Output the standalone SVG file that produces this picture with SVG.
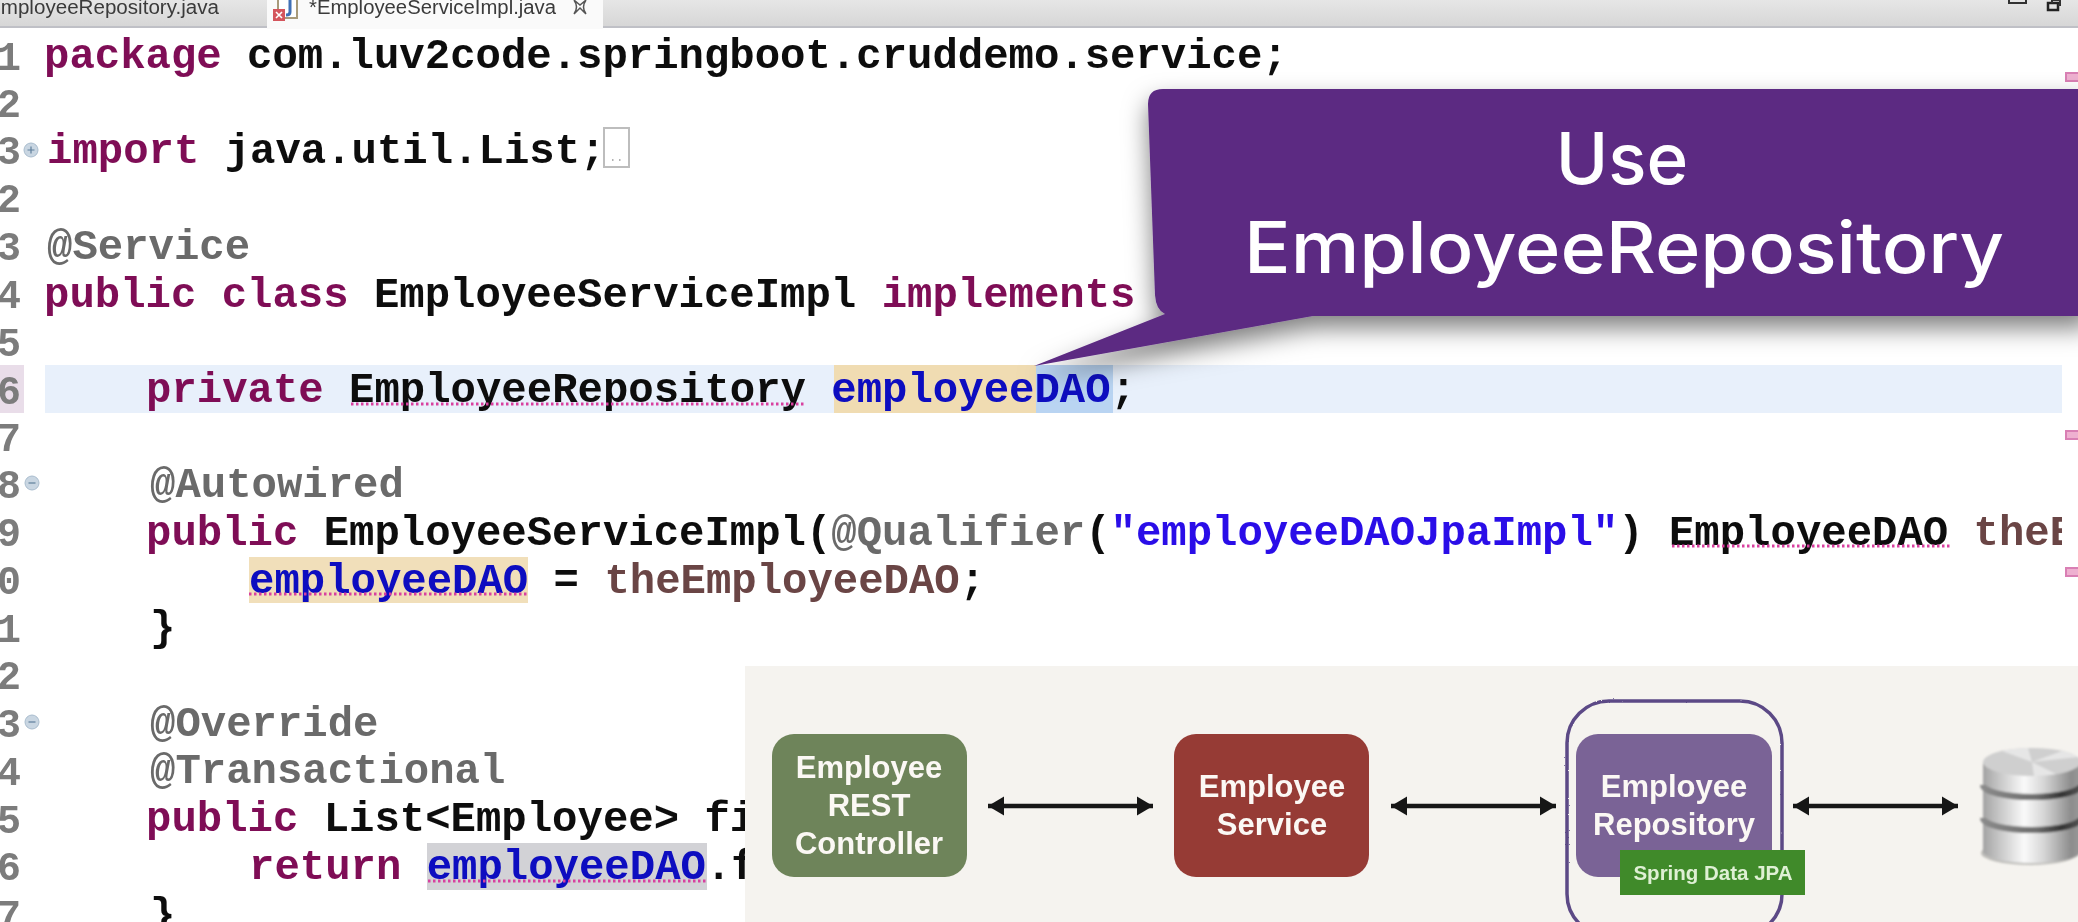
<svg xmlns="http://www.w3.org/2000/svg" width="2078" height="922" viewBox="0 0 2078 922">
<style>
.code{font-family:"Liberation Mono",monospace;font-weight:700;font-size:42.3px;fill:#0c0c0c}
.num{font-family:"Liberation Mono",monospace;font-weight:700;font-size:40px;fill:#7b7b7b}
.kw{fill:#7f1056}
.an{fill:#6a6a6a}
.fld{fill:#0a0ac0}
.str{fill:#2a10e8}
.par{fill:#6a4444}
.ul{stroke:#d8409f;stroke-width:3;stroke-dasharray:2.5 2.5;fill:none}
.tab{font-family:"Liberation Sans",Arial,sans-serif;font-size:20px;fill:#3a3a3a}
.node{font-family:"Liberation Sans",Arial,sans-serif;font-weight:700;font-size:31px;fill:#fbf8f4;text-anchor:middle}
.call{font-family:Inter,"Liberation Sans",sans-serif;font-size:71px;font-weight:500;fill:#fff;text-anchor:middle}
.mark{fill:#eeb0d0;stroke:#d97fb4;stroke-width:2}
.fold{fill:#c9d6e2;stroke:#a9bccd;stroke-width:1}
.conn{stroke:#161616;stroke-width:4.5;fill:none;marker-start:url(#head);marker-end:url(#head)}
.groove{fill:none;stroke:url(#groove);stroke-width:6}
</style>
<defs>
<linearGradient id="strip" x1="0" y1="0" x2="0" y2="1"><stop offset="0" stop-color="#e6e6e6"/><stop offset="1" stop-color="#d6d6d6"/></linearGradient>
<linearGradient id="disk" x1="0" y1="0" x2="1" y2="0"><stop offset="0" stop-color="#a2a2a2"/><stop offset=".12" stop-color="#bdbdbd"/><stop offset=".42" stop-color="#fafafa"/><stop offset=".62" stop-color="#d6d6d6"/><stop offset=".9" stop-color="#8c8c8c"/><stop offset="1" stop-color="#9a9a9a"/></linearGradient>
<linearGradient id="groove" x1="0" y1="0" x2="1" y2="0"><stop offset="0" stop-color="#8a8a8a"/><stop offset=".55" stop-color="#6e6e6e"/><stop offset=".8" stop-color="#333"/><stop offset="1" stop-color="#555"/></linearGradient>
<filter id="soft" x="0" y="0" width="100%" height="100%"><feGaussianBlur stdDeviation="0.7"/></filter>
<filter id="dbblur" x="-10%" y="-10%" width="120%" height="120%"><feGaussianBlur stdDeviation="1.2"/></filter>
<filter id="rough" x="-5%" y="-5%" width="110%" height="110%"><feTurbulence type="fractalNoise" baseFrequency="0.25" numOctaves="2" seed="4"/><feDisplacementMap in="SourceGraphic" scale="1.8"/></filter>
<filter id="shadow" x="-10%" y="-20%" width="120%" height="150%"><feDropShadow dx="0" dy="12" stdDeviation="12" flood-color="#000" flood-opacity=".5"/></filter>
<clipPath id="codeclip"><rect x="0" y="0" width="2062" height="922"/></clipPath>
<marker id="head" markerUnits="userSpaceOnUse" markerWidth="18" markerHeight="22" refX="16" refY="11" orient="auto-start-reverse"><path d="M0,1.5 L16,11 L0,20.5 Z" fill="#161616"/></marker>
</defs>
<rect x="0" y="0" width="2078" height="922" fill="#fff"/>
<g filter="url(#soft)">
<g id="tabs">
<rect x="0" y="0" width="2078" height="27" fill="url(#strip)"/>
<rect x="0" y="26" width="2078" height="2" fill="#bfc0c6"/>
<rect x="267" y="0" width="336" height="29" fill="#fafafa"/>
<text class="tab" x="-13" y="14" textLength="232" lengthAdjust="spacingAndGlyphs">EmployeeRepository.java</text>
<path d="M278,0 V18 H297 V0" fill="#fff" stroke="#a89a7a" stroke-width="2"/>
<path d="M290,0 V12 Q290,15 286,15" fill="none" stroke="#3f6fb5" stroke-width="3"/>
<rect x="273" y="9" width="12" height="12" fill="#d4555c"/>
<path d="M276,12 L282,18 M282,12 L276,18" stroke="#fff" stroke-width="1.6"/>
<text class="tab" x="309" y="14" textLength="247" lengthAdjust="spacingAndGlyphs">*EmployeeServiceImpl.java</text>
<path d="M574,0 L580,5 L586,0 M574,14 L580,8 L586,14 M574,0 Q579,7 574,14 M586,0 Q581,7 586,14" fill="none" stroke="#555" stroke-width="1.5"/>
<rect x="2009" y="-4" width="17" height="7" fill="none" stroke="#333" stroke-width="2"/>
<rect x="2048" y="3" width="10" height="7" fill="none" stroke="#222" stroke-width="2.5"/>
<path d="M2052,3 V0 H2060 V5 H2058" fill="none" stroke="#333" stroke-width="2"/>
</g>
<g id="gutter">
<rect x="0" y="365" width="24" height="48" fill="#e9dde9"/>
<text class="num" x="-3" y="70">1</text>
<text class="num" x="-3" y="117">2</text>
<text class="num" x="-3" y="164">3</text>
<text class="num" x="-3" y="212">2</text>
<text class="num" x="-3" y="260">3</text>
<text class="num" x="-3" y="308">4</text>
<text class="num" x="-3" y="356">5</text>
<text class="num" x="-3" y="404">6</text>
<text class="num" x="-3" y="451">7</text>
<text class="num" x="-3" y="498">8</text>
<text class="num" x="-3" y="546">9</text>
<text class="num" x="-3" y="594">0</text>
<text class="num" x="-3" y="642">1</text>
<text class="num" x="-3" y="689">2</text>
<text class="num" x="-3" y="737">3</text>
<text class="num" x="-3" y="785">4</text>
<text class="num" x="-3" y="833">5</text>
<text class="num" x="-3" y="880">6</text>
<text class="num" x="-3" y="928">7</text>
<circle class="fold" cx="31" cy="150" r="7"/><path d="M27.5,150 H34.5 M31,146.5 V153.5" stroke="#5f7f9c" stroke-width="1.2"/>
<circle class="fold" cx="32" cy="483" r="7"/><path d="M28.5,483 H35.5" stroke="#5f7f9c" stroke-width="1.2"/>
<circle class="fold" cx="32" cy="722" r="7"/><path d="M28.5,722 H35.5" stroke="#5f7f9c" stroke-width="1.2"/>
</g>
<g id="highlights">
<rect x="45" y="365" width="2017" height="48" fill="#e8f0fb"/>
<rect x="834" y="365" width="202" height="48" fill="#f0dcb2"/>
<rect x="1036" y="365" width="77" height="48" fill="#b9d4f2"/>
<rect x="249" y="557" width="279" height="46" fill="#f1dfba"/>
<rect x="427" y="843" width="280" height="47" fill="#d2d2d6"/>
</g>
<g id="code" clip-path="url(#codeclip)" xml:space="preserve">
<text class="code" x="44" y="68"><tspan class="kw">package</tspan> com.luv2code.springboot.cruddemo.service;</text>
<text class="code" x="47" y="163"><tspan class="kw">import</tspan> java.util.List;</text>
<text class="code an" x="47" y="259">@Service</text>
<text class="code" x="44" y="307"><tspan class="kw">public class</tspan> EmployeeServiceImpl <tspan class="kw">implements</tspan></text>
<text class="code" x="146" y="402"><tspan class="kw">private</tspan> EmployeeRepository <tspan class="fld">employeeDAO</tspan>;</text>
<text class="code an" x="150" y="497">@Autowired</text>
<text class="code" x="146" y="545"><tspan class="kw">public</tspan> EmployeeServiceImpl(<tspan class="an">@Qualifier</tspan>(<tspan class="str">"employeeDAOJpaImpl"</tspan>) EmployeeDAO <tspan class="par">theE</tspan></text>
<text class="code" x="249" y="593"><tspan class="fld">employeeDAO</tspan> = <tspan class="par">theEmployeeDAO</tspan>;</text>
<text class="code" x="150" y="640">}</text>
<text class="code an" x="150" y="736">@Override</text>
<text class="code an" x="150" y="783">@Transactional</text>
<text class="code" x="146" y="831"><tspan class="kw">public</tspan> List&lt;Employee&gt; fi</text>
<text class="code" x="249" y="879"><tspan class="kw">return</tspan> <tspan class="fld">employeeDAO</tspan>.f</text>
<text class="code" x="150" y="927">}</text>
</g>
<g id="import-box">
<rect x="604" y="128" width="25" height="39" fill="#fff" stroke="#bdbdbd" stroke-width="2"/>
<path d="M612,160 h1.5 M619,160 h1.5" stroke="#999" stroke-width="1.5"/>
</g>
<g id="underlines">
<line class="ul" x1="351" y1="404" x2="806" y2="404"/>
<line class="ul" x1="1672" y1="546" x2="1952" y2="546"/>
<line class="ul" x1="249" y1="594" x2="528" y2="594"/>
<line class="ul" x1="428" y1="881" x2="706" y2="881"/>
</g>
<g id="overview-marks">
<rect class="mark" x="2066" y="73" width="14" height="8"/>
<rect class="mark" x="2066" y="431" width="14" height="8"/>
<rect class="mark" x="2066" y="568" width="14" height="8"/>
</g>
<g id="callout">
<path d="M1163,89 H2090 V316 H1313 L1034,366 L1165,314 Q1156,310 1155,295 L1148,104 Q1148,89 1163,89 Z" fill="#5c2a82" filter="url(#shadow)"/>
<text class="call" x="1622" y="184">Use</text>
<text class="call" x="1624" y="273" textLength="760" lengthAdjust="spacingAndGlyphs">EmployeeRepository</text>
</g>
<rect id="panel" x="745" y="666" width="1333" height="256" fill="#f5f3ef"/>
<g id="connectors">
<line class="conn" x1="988" y1="806" x2="1153" y2="806"/>
<line class="conn" x1="1391" y1="806" x2="1556" y2="806"/>
<line class="conn" x1="1793" y1="806" x2="1958" y2="806"/>
</g>
<g id="controller">
<rect x="772" y="734" width="195" height="143" rx="22" fill="#6e845a"/>
<text class="node" x="869" y="778">Employee</text>
<text class="node" x="869" y="816">REST</text>
<text class="node" x="869" y="854">Controller</text>
</g>
<g id="service">
<rect x="1174" y="734" width="195" height="143" rx="22" fill="#963a36"/>
<text class="node" x="1272" y="797">Employee</text>
<text class="node" x="1272" y="835">Service</text>
</g>
<g id="repository">
<rect x="1567" y="701" width="215" height="235" rx="42" fill="none" stroke="#5b4a86" stroke-width="3.5" filter="url(#rough)"/>
<rect x="1576" y="734" width="196" height="143" rx="22" fill="#7a6396"/>
<text class="node" x="1674" y="797">Employee</text>
<text class="node" x="1674" y="835">Repository</text>
<rect x="1620" y="850" width="185" height="45" fill="#3f8a2c"/>
<text x="1713" y="880" font-family="Liberation Sans, Arial, sans-serif" font-weight="700" font-size="20.5" fill="#dff0d4" text-anchor="middle">Spring Data JPA</text>
</g>
<g id="database" filter="url(#dbblur)">
<ellipse cx="2030" cy="853" rx="49" ry="12" fill="#9a9a96" opacity=".6"/>
<path d="M1983,762 V851 A49,12 0 0 0 2081,851 V762 Z" fill="url(#disk)"/>
<path class="groove" d="M1983,785 A49,12 0 0 0 2081,785"/>
<path class="groove" d="M1983,818 A49,12 0 0 0 2081,818"/>
<ellipse cx="2032" cy="762" rx="49" ry="14" fill="#cfcfcf"/>
<path d="M2032,762 L2002,751 A49,14 0 0 1 2028,748 Z M2032,762 L2034,776 A49,14 0 0 0 2056,774 Z M2032,762 L2062,751 A49,14 0 0 1 2078,757 Z" fill="#e6e6e6"/>
</g>
</g>
</svg>
